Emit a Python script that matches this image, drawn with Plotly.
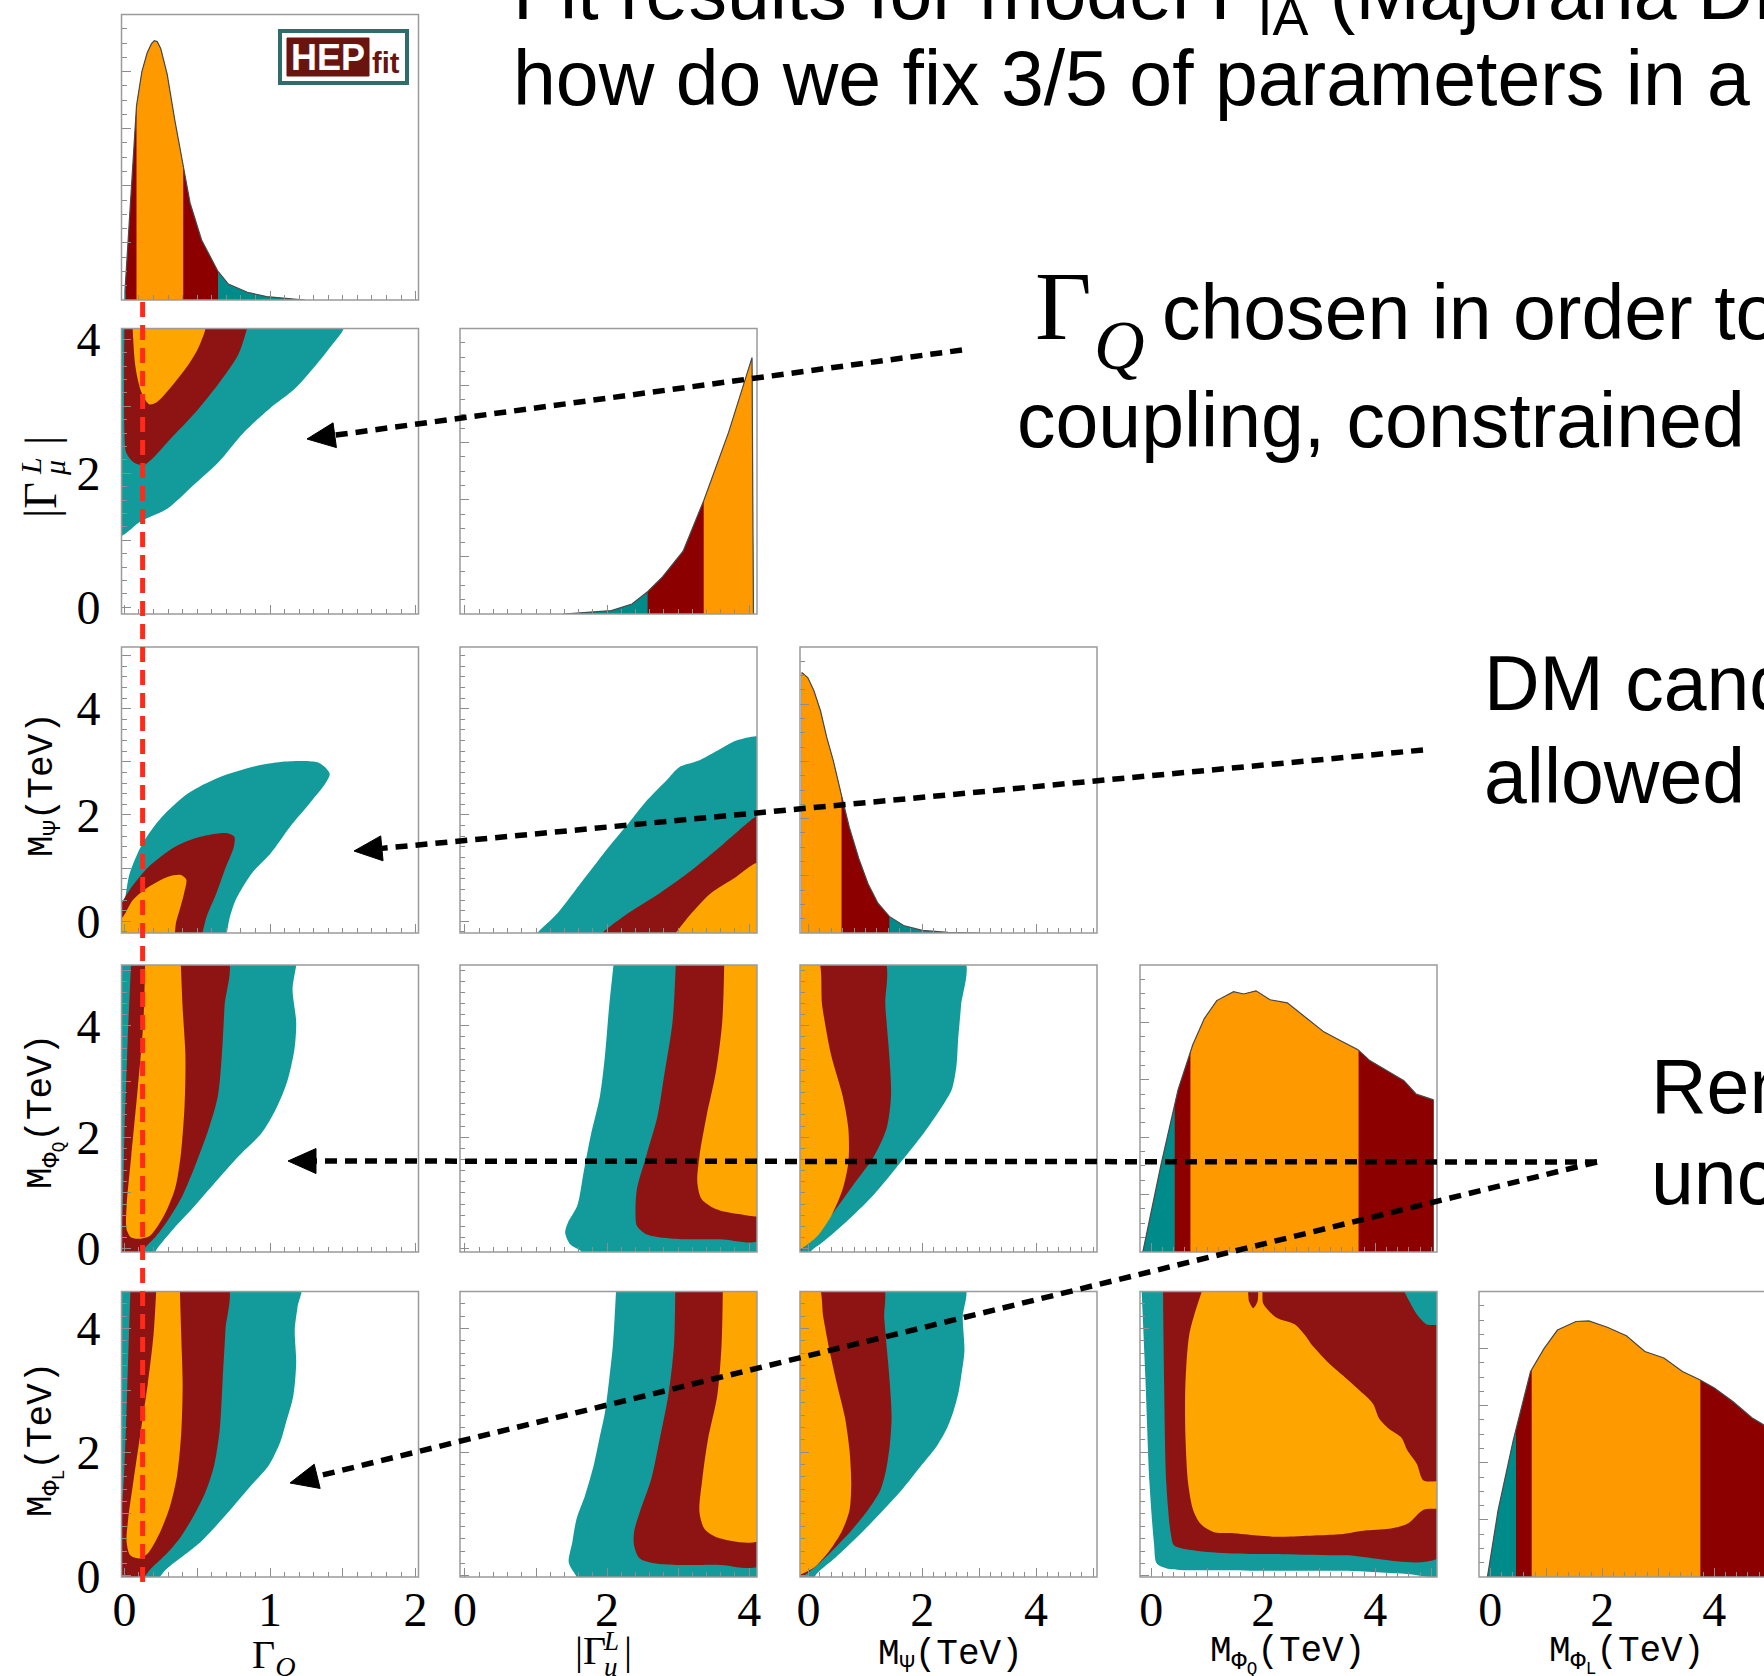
import numpy as np
import plotly.graph_objects as go

W, H = 1764, 1676

# ---------------- one-dimensional marginals (peak-normalised density) ----------------
GQ_X = [0.0, 0.03, 0.06, 0.083, 0.12, 0.156, 0.185, 0.205, 0.225, 0.25, 0.294, 0.346,
        0.404, 0.451, 0.53, 0.643, 0.714, 0.845, 0.977, 1.24]
GQ_P = [0.0, 0.24, 0.50, 0.68, 0.80, 0.865, 0.897, 0.908, 0.905, 0.88, 0.79, 0.63,
        0.47, 0.34, 0.21, 0.10, 0.056, 0.027, 0.012, 0.0]
GQ_68, GQ_95, GQ_99 = [0.083, 0.404], [0.01, 0.643], [0.0, 1.24]

GL_X = [1.38, 1.70, 2.06, 2.35, 2.57, 2.78, 3.07, 3.36, 3.71, 4.04, 4.06]
GL_P = [0.0, 0.006, 0.012, 0.035, 0.078, 0.13, 0.22, 0.397, 0.636, 0.898, 0.0]
GL_68, GL_95, GL_99 = [3.36, 4.06], [2.57, 4.06], [1.38, 4.06]

MPSI_X = [-0.12, -0.014, 0.095, 0.21, 0.32, 0.435, 0.58, 0.716, 0.884, 1.05, 1.22,
          1.42, 1.67, 2.0, 2.45, 3.0]
MPSI_P = [0.911, 0.893, 0.847, 0.777, 0.684, 0.603, 0.48, 0.37, 0.26, 0.17, 0.104,
          0.058, 0.026, 0.009, 0.002, 0.0]
MPSI_68, MPSI_95, MPSI_99 = [-0.12, 0.58], [-0.12, 1.42], [-0.12, 3.0]

MPHQ_X = [-0.15, 0.17, 0.48, 0.74, 0.95, 1.17, 1.47, 1.65, 1.87, 2.12, 2.43, 2.77,
          3.08, 3.38, 3.69, 3.90, 4.25, 4.51, 4.73, 4.99, 5.04]
MPHQ_P = [0.0, 0.30, 0.566, 0.721, 0.814, 0.876, 0.907, 0.899, 0.910, 0.879, 0.868,
          0.814, 0.767, 0.736, 0.705, 0.667, 0.628, 0.597, 0.550, 0.535, 0.53]
MPHQ_68, MPHQ_95, MPHQ_99 = [0.70, 3.70], [0.42, 5.04], [-0.15, 5.04]

MPHL_X = [-0.05, 0.14, 0.41, 0.72, 0.96, 1.20, 1.53, 1.76, 2.09, 2.43, 2.76, 3.10,
          3.43, 3.74, 4.0, 4.33, 4.67, 4.87, 5.05]
MPHL_P = [0.0, 0.233, 0.478, 0.72, 0.80, 0.865, 0.895, 0.897, 0.875, 0.845, 0.79,
          0.767, 0.72, 0.691, 0.662, 0.615, 0.558, 0.534, 0.50]
MPHL_68, MPHL_95, MPHL_99 = [0.74, 3.75], [0.46, 5.05], [-0.05, 5.05]

# chosen value of Gamma_Q
GQ_CHOSEN = 0.125

# ---------------- joint posteriors: 99.7 %, 95 % and 68 % region boundaries ----------------
GQ_GL_99 = [[-0.05, 4.3], [-0.05, 1.05], [0.118, 1.29], [0.294, 1.47], [0.468, 1.81],
            [0.644, 2.16], [0.82, 2.61], [0.995, 2.96], [1.17, 3.26], [1.31, 3.6],
            [1.42, 3.9], [1.50, 4.13], [1.52, 4.3]]
GQ_GL_95 = [[0.0, 4.3], [0.0, 2.61], [0.012, 2.31], [0.065, 2.16], [0.128, 2.12],
            [0.188, 2.21], [0.294, 2.46], [0.468, 2.86], [0.644, 3.33], [0.784, 3.78],
            [0.86, 4.3]]
GQ_GL_68 = [[0.054, 4.3], [0.075, 3.6], [0.118, 3.2], [0.17, 3.03], [0.222, 3.06],
            [0.329, 3.31], [0.433, 3.6], [0.503, 3.85], [0.556, 4.15], [0.56, 4.3]]

GQ_MPSI_99 = [[-0.05, -0.3], [-0.05, 0.2], [-0.017, 0.216], [0.036, 0.90], [0.124, 1.46],
              [0.257, 1.96], [0.433, 2.40], [0.653, 2.71], [0.918, 2.93], [1.138, 3.01],
              [1.337, 2.98], [1.41, 2.78], [1.38, 2.59], [1.27, 2.21], [1.138, 1.78],
              [1.005, 1.28], [0.874, 0.90], [0.764, 0.40], [0.72, 0.03], [0.70, -0.3]]
GQ_MPSI_95 = [[-0.05, -0.3], [-0.05, 0.156], [0.036, 0.59], [0.168, 1.03], [0.345, 1.40],
              [0.521, 1.59], [0.698, 1.66], [0.755, 1.59], [0.751, 1.40], [0.698, 1.03],
              [0.632, 0.53], [0.565, 0.09], [0.53, -0.3]]
GQ_MPSI_68 = [[-0.05, -0.3], [-0.05, 0.0], [-0.008, 0.09], [0.058, 0.40], [0.168, 0.65],
              [0.30, 0.84], [0.389, 0.87], [0.425, 0.78], [0.41, 0.53], [0.38, 0.22],
              [0.354, -0.03], [0.345, -0.3]]

GL_MPSI_99 = [[0.98, -0.3], [1.017, -0.22], [1.305, 0.156], [1.665, 0.78], [2.024, 1.40],
              [2.30, 1.84], [2.565, 2.28], [2.835, 2.65], [3.015, 2.90], [3.28, 3.02],
              [3.55, 3.21], [3.82, 3.40], [4.09, 3.48], [4.2, 3.48], [4.2, -0.3]]
GL_MPSI_95 = [[1.90, -0.3], [1.935, -0.22], [2.30, 0.156], [2.74, 0.53], [3.19, 0.96],
              [3.64, 1.46], [4.09, 1.97], [4.2, 2.05], [4.2, -0.3]]
GL_MPSI_68 = [[2.94, -0.3], [2.97, -0.22], [3.19, 0.156], [3.46, 0.53], [3.82, 0.84],
              [4.09, 1.09], [4.2, 1.1], [4.2, -0.3]]

GQ_MPHQ_99 = [[-0.05, -0.2], [-0.05, 5.2], [1.18, 5.2], [1.18, 5.09], [1.155, 4.66],
              [1.18, 4.06], [1.168, 3.58], [1.116, 2.98], [1.04, 2.50], [0.944, 2.08],
              [0.784, 1.66], [0.624, 1.19], [0.464, 0.71], [0.335, 0.35], [0.239, 0.05],
              [0.175, -0.2]]
GQ_MPHQ_95 = [[0.047, 5.2], [0.707, 5.2], [0.688, 4.36], [0.669, 3.46], [0.642, 2.74],
              [0.579, 2.15], [0.495, 1.55], [0.399, 0.95], [0.304, 0.53], [0.22, 0.23],
              [0.143, 0.02], [0.079, -0.2], [-0.05, -0.2], [-0.05, 0.0], [-0.018, 0.47],
              [0.002, 2.26], [0.027, 4.06]]
GQ_MPHQ_68 = [[0.143, 5.2], [0.13, 4.06], [0.091, 2.86], [0.047, 1.66], [0.015, 0.76],
              [0.015, 0.35], [0.047, 0.20], [0.111, 0.18], [0.175, 0.23], [0.271, 0.59],
              [0.347, 1.07], [0.386, 1.66], [0.413, 2.56], [0.419, 3.46], [0.399, 4.36],
              [0.386, 5.2]]

GL_MPHQ_99 = [[2.10, 5.2], [2.03, 4.36], [1.97, 3.46], [1.90, 2.74], [1.77, 2.03],
              [1.67, 1.37], [1.58, 0.77], [1.45, 0.47], [1.41, 0.29], [1.48, 0.08],
              [1.62, -0.03], [1.75, -0.2], [4.2, -0.2], [4.2, 5.2]]
GL_MPHQ_95 = [[2.97, 5.2], [2.92, 4.06], [2.81, 3.16], [2.71, 2.38], [2.55, 1.66],
              [2.42, 1.07], [2.40, 0.65], [2.42, 0.41], [2.55, 0.26], [2.94, 0.18],
              [3.59, 0.17], [4.2, 0.18], [4.2, 5.2]]
GL_MPHQ_68 = [[3.65, 5.2], [3.62, 4.06], [3.53, 3.16], [3.40, 2.38], [3.30, 1.66],
              [3.27, 1.19], [3.33, 0.89], [3.53, 0.71], [3.85, 0.62], [4.2, 0.62], [4.2, 5.2]]

MPSI_MPHQ_99 = [[-0.2, 5.2], [2.73, 5.2], [2.68, 4.36], [2.63, 3.76], [2.60, 3.28],
                [2.52, 2.86], [2.39, 2.62], [2.03, 2.08], [1.62, 1.55], [1.13, 0.95],
                [0.65, 0.47], [0.24, 0.11], [0.045, -0.04], [-0.05, -0.2], [-0.2, -0.2]]
MPSI_MPHQ_95 = [[-0.2, 5.2], [1.32, 5.2], [1.35, 4.36], [1.42, 3.46], [1.45, 2.74],
                [1.37, 2.15], [1.15, 1.66], [0.82, 1.19], [0.48, 0.71], [0.16, 0.29],
                [-0.05, 0.05], [-0.2, -0.1]]
MPSI_MPHQ_68 = [[-0.2, 5.2], [0.16, 5.2], [0.24, 4.36], [0.40, 3.46], [0.60, 2.74],
                [0.70, 2.15], [0.70, 1.55], [0.60, 1.07], [0.40, 0.59], [0.16, 0.23],
                [-0.09, 0.02], [-0.2, -0.05]]

GQ_MPHL_99 = [[-0.05, -0.1], [-0.05, 4.7], [1.21, 4.7], [1.19, 4.36], [1.17, 3.98],
              [1.18, 3.45], [1.16, 2.91], [1.11, 2.48], [1.07, 2.16], [0.99, 1.78],
              [0.87, 1.46], [0.75, 1.13], [0.63, 0.81], [0.52, 0.54], [0.38, 0.28],
              [0.28, 0.09], [0.22, -0.1]]
GQ_MPHL_95 = [[0.042, 4.7], [0.706, 4.7], [0.694, 3.98], [0.675, 3.18], [0.655, 2.37],
              [0.616, 1.78], [0.556, 1.35], [0.476, 0.97], [0.378, 0.60], [0.279, 0.33],
              [0.18, 0.11], [0.10, -0.1], [-0.05, -0.1], [-0.05, 0.2], [-0.006, 1.49],
              [0.021, 3.18]]
GQ_MPHL_68 = [[0.22, 4.7], [0.20, 3.9], [0.16, 3.1], [0.11, 2.3], [0.06, 1.5],
              [0.025, 0.9], [0.015, 0.55], [0.04, 0.33], [0.10, 0.28], [0.16, 0.36],
              [0.24, 0.68], [0.31, 1.1], [0.36, 1.6], [0.39, 2.3], [0.40, 3.1],
              [0.39, 3.9], [0.38, 4.7]]

GL_MPHL_99 = [[2.13, 4.7], [2.08, 3.71], [2.03, 3.18], [1.97, 2.64], [1.89, 2.21],
              [1.81, 1.78], [1.69, 1.30], [1.57, 0.92], [1.51, 0.54], [1.46, 0.22],
              [1.53, 0.06], [1.65, -0.1], [4.2, -0.1], [4.2, 4.7]]
GL_MPHL_95 = [[2.96, 4.7], [2.94, 3.71], [2.86, 2.91], [2.74, 2.21], [2.62, 1.56],
              [2.46, 1.03], [2.38, 0.71], [2.38, 0.49], [2.46, 0.28], [2.74, 0.19],
              [3.55, 0.18], [4.2, 0.19], [4.2, 4.7]]
GL_MPHL_68 = [[3.63, 4.7], [3.61, 3.71], [3.55, 2.91], [3.42, 2.21], [3.34, 1.56],
              [3.30, 1.03], [3.37, 0.76], [3.55, 0.62], [4.2, 0.60], [4.2, 4.7]]

MPSI_MPHL_99 = [[-0.2, 4.7], [2.74, 4.7], [2.71, 4.18], [2.74, 3.64], [2.68, 3.21],
                [2.63, 2.94], [2.55, 2.67], [2.44, 2.40], [2.24, 2.08], [1.96, 1.76],
                [1.63, 1.38], [1.25, 1.00], [0.86, 0.63], [0.48, 0.30], [0.15, 0.04],
                [0.04, -0.1], [-0.2, -0.1]]
MPSI_MPHL_95 = [[-0.2, 4.7], [1.30, 4.7], [1.33, 4.18], [1.38, 3.64], [1.43, 3.10],
                [1.46, 2.56], [1.43, 2.13], [1.36, 1.70], [1.26, 1.38], [1.04, 1.06],
                [0.75, 0.73], [0.42, 0.41], [0.15, 0.17], [-0.07, 0.01], [-0.2, -0.05]]
MPSI_MPHL_68 = [[-0.2, 4.7], [0.17, 4.7], [0.26, 4.18], [0.37, 3.64], [0.50, 3.10],
                [0.64, 2.56], [0.72, 2.03], [0.75, 1.49], [0.72, 1.06], [0.59, 0.73],
                [0.37, 0.41], [0.12, 0.15], [-0.09, 0.04], [-0.2, 0.0]]

MPHQ_MPHL_99 = [[-0.25, 4.7], [5.2, 4.7], [5.2, 0.03], [4.57, 0.03], [3.46, 0.08],
                [2.34, 0.08], [1.22, 0.09], [0.33, 0.11], [0.10, 0.20], [0.05, 0.52],
                [-0.03, 1.49], [-0.10, 3.10], [-0.17, 4.6]]
MPHQ_MPHL_95 = [[0.21, 4.7], [0.23, 3.10], [0.27, 1.49], [0.35, 0.68], [0.41, 0.49],
                [0.77, 0.41], [1.44, 0.36], [2.34, 0.35], [3.46, 0.33], [5.2, 0.33],
                [5.2, 4.02], [4.91, 4.07], [4.74, 4.23], [4.63, 4.40], [4.46, 4.7]]
MPHQ_MPHL_68 = [[0.94, 4.7], [1.95, 4.7], [2.00, 4.40], [2.23, 4.18], [2.56, 4.07],
                [2.73, 3.91], [2.90, 3.70], [3.18, 3.43], [3.46, 3.21], [3.79, 2.94],
                [3.96, 2.78], [4.07, 2.54], [4.24, 2.38], [4.46, 2.24], [4.57, 2.03],
                [4.74, 1.81], [4.86, 1.54], [5.2, 1.51], [5.2, 1.11], [4.86, 1.07],
                [4.57, 0.84], [4.24, 0.76], [3.79, 0.73], [3.35, 0.67], [2.90, 0.65],
                [2.34, 0.63], [1.89, 0.65], [1.44, 0.69], [1.11, 0.71], [0.88, 0.84],
                [0.75, 1.06], [0.66, 1.49], [0.61, 2.29], [0.61, 3.10], [0.68, 3.91],
                [0.83, 4.40]]
MPHQ_MPHL_95_ISLAND = [[1.72, 4.7], [1.88, 4.7], [1.90, 4.45], [1.82, 4.33], [1.74, 4.45]]

MARGINALS = {
    0: (GQ_X, GQ_P, GQ_99, GQ_95, GQ_68),
    1: (GL_X, GL_P, GL_99, GL_95, GL_68),
    2: (MPSI_X, MPSI_P, MPSI_99, MPSI_95, MPSI_68),
    3: (MPHQ_X, MPHQ_P, MPHQ_99, MPHQ_95, MPHQ_68),
    4: (MPHL_X, MPHL_P, MPHL_99, MPHL_95, MPHL_68),
}
JOINTS = {
    (1, 0): [GQ_GL_99, GQ_GL_95, GQ_GL_68],
    (2, 0): [GQ_MPSI_99, GQ_MPSI_95, GQ_MPSI_68],
    (2, 1): [GL_MPSI_99, GL_MPSI_95, GL_MPSI_68],
    (3, 0): [GQ_MPHQ_99, GQ_MPHQ_95, GQ_MPHQ_68],
    (3, 1): [GL_MPHQ_99, GL_MPHQ_95, GL_MPHQ_68],
    (3, 2): [MPSI_MPHQ_99, MPSI_MPHQ_95, MPSI_MPHQ_68],
    (4, 0): [GQ_MPHL_99, GQ_MPHL_95, GQ_MPHL_68],
    (4, 1): [GL_MPHL_99, GL_MPHL_95, GL_MPHL_68],
    (4, 2): [MPSI_MPHL_99, MPSI_MPHL_95, MPSI_MPHL_68],
    (4, 3): [MPHQ_MPHL_99, MPHQ_MPHL_95, MPHQ_MPHL_68],
}

# ---------------- axes ----------------
X_RANGE = [[-0.02, 2.02], [-0.07, 4.11], [-0.15, 5.07], [-0.2, 5.1], [-0.2, 5.1]]
Y_RANGE = [[0.0, 1.0], [-0.1, 4.16], [-0.22, 5.16], [-0.06, 5.09], [-0.02, 4.6]]
MASS_TICKS = ([0, 1, 2, 3, 4, 5], ["0", "", "2", "", "4", ""], 0.2)
TICKS = [([0, 0.5, 1, 1.5, 2], ["0", "", "1", "", "2"], 0.1),
         ([0, 1, 2, 3, 4], ["0", "", "2", "", "4"], 0.2),
         MASS_TICKS, MASS_TICKS, MASS_TICKS]

COL_PX = [(121.5, 418.5), (460.0, 757.0), (800.0, 1097.0), (1140.0, 1437.0), (1479.0, 1776.0)]
ROW_PX = [(14.5, 300.0), (328.5, 614.0), (647.0, 933.0), (965.0, 1252.0), (1291.5, 1577.0)]

C1D = {"99": "#008b8b", "95": "#8d0000", "68": "#ff9900"}
C2D = {"99": "#139b9b", "95": "#8e1414", "68": "#ffa500"}
TICK_GREY = "#8c8c8c"
TICK_FONT = dict(family="Liberation Serif", size=48, color="black")

fig = go.Figure()
layout = dict(width=W, height=H, margin=dict(l=0, r=0, t=0, b=0, pad=0),
              paper_bgcolor="white", plot_bgcolor="white", showlegend=False,
              template="none")
shapes, annotations = [], []


def band(xs, ps, lo, hi):
    xs = np.asarray(xs, float)
    ps = np.asarray(ps, float)
    inner = (xs > lo) & (xs < hi)
    bx = np.concatenate([[lo, lo], xs[inner], [hi, hi]])
    by = np.concatenate([[0.0, np.interp(lo, xs, ps)], ps[inner],
                         [np.interp(hi, xs, ps), 0.0]])
    return bx, by


k = 0
for r in range(5):
    for c in range(r + 1):
        k += 1
        sx = "" if k == 1 else str(k)
        x0, x1 = COL_PX[c]
        y0, y1 = ROW_PX[r]
        xr = list(X_RANGE[c])
        x1c = x1
        if x1 > W:  # last column runs off the page
            xr[1] = xr[0] + (xr[1] - xr[0]) * (W - x0) / (x1 - x0)
            x1c = W
        tv, tt, mdt = TICKS[c]
        layout["xaxis" + sx] = dict(
            domain=[x0 / W, x1c / W], range=xr, anchor="y" + sx,
            showgrid=False, zeroline=False, showline=False,
            ticks="inside", ticklen=9, tickwidth=1, tickcolor=TICK_GREY,
            tickmode="array", tickvals=tv, ticktext=tt,
            minor=dict(ticks="inside", ticklen=5, tickwidth=1, tickcolor=TICK_GREY,
                       dtick=mdt, tick0=0, showgrid=False),
            showticklabels=(r == 4), tickfont=TICK_FONT, ticklabelstandoff=0,
            fixedrange=True)
        if r == c:
            ycfg = dict(tickmode="linear", tick0=0, dtick=0.2, showticklabels=False,
                        minor=dict(ticks="inside", ticklen=5, tickwidth=1,
                                   tickcolor=TICK_GREY, dtick=0.05, tick0=0, showgrid=False))
            yr = Y_RANGE[0]
        else:
            tvy, tty, mdty = TICKS[r]
            ycfg = dict(tickmode="array", tickvals=tvy, ticktext=tty,
                        showticklabels=(c == 0),
                        minor=dict(ticks="inside", ticklen=5, tickwidth=1,
                                   tickcolor=TICK_GREY, dtick=mdty, tick0=0, showgrid=False))
            yr = Y_RANGE[r]
        layout["yaxis" + sx] = dict(
            domain=[1 - y1 / H, 1 - y0 / H], range=yr, anchor="x" + sx,
            showgrid=False, zeroline=False, showline=False,
            ticks="inside", ticklen=9, tickwidth=1, tickcolor=TICK_GREY,
            tickfont=TICK_FONT, ticklabelstandoff=20, fixedrange=True, **ycfg)

        shapes.append(dict(type="rect", xref="paper", yref="paper",
                           x0=x0 / W, x1=x1 / W, y0=1 - y1 / H, y1=1 - y0 / H,
                           line=dict(color="#9b9b9b", width=1.5),
                           fillcolor="rgba(0,0,0,0)", layer="above"))

        xa, ya = "x" + sx, "y" + sx
        if r == c:
            xs, ps, i99, i95, i68 = MARGINALS[c]
            for iv, key in ((i99, "99"), (i95, "95"), (i68, "68")):
                bx, by = band(xs, ps, iv[0], iv[1])
                fig.add_trace(go.Scatter(x=bx, y=by, mode="lines", fill="toself",
                                         fillcolor=C1D[key], line=dict(width=0),
                                         hoverinfo="skip", xaxis=xa, yaxis=ya))
            fig.add_trace(go.Scatter(x=xs, y=ps, mode="lines",
                                     line=dict(color="#4a4a4a", width=1.2),
                                     hoverinfo="skip", xaxis=xa, yaxis=ya))
        else:
            regions = list(zip(JOINTS[(r, c)], ("99", "95", "68")))
            if (r, c) == (4, 3):
                regions.append((MPHQ_MPHL_95_ISLAND, "95"))
            for poly, key in regions:
                p = np.asarray(poly, float)
                fig.add_trace(go.Scatter(x=p[:, 0], y=p[:, 1], mode="lines",
                                         fill="toself", fillcolor=C2D[key],
                                         line=dict(width=0, shape="spline", smoothing=0.8),
                                         hoverinfo="skip", xaxis=xa, yaxis=ya))

# chosen Gamma_Q: dashed red vertical through the first column
shapes.append(dict(type="line", xref="x", yref="paper", x0=GQ_CHOSEN, x1=GQ_CHOSEN,
                   y0=1 - 1582 / H, y1=1 - 301 / H,
                   line=dict(color="#ff2a1a", width=5, dash="15px,8px"), layer="above"))


# dashed arrows from the notes to the panels
def arrow(sx_, sy_, tx, ty, head_len=28, head_w=25):
    ux, uy = tx - sx_, ty - sy_
    n = (ux ** 2 + uy ** 2) ** 0.5
    ux, uy = ux / n, uy / n
    bx, by = tx - head_len * ux, ty - head_len * uy
    shapes.append(dict(type="line", xref="paper", yref="paper",
                       x0=sx_ / W, y0=1 - sy_ / H, x1=bx / W, y1=1 - by / H,
                       line=dict(color="black", width=5.5, dash="12px,8px"), layer="above"))
    px, py = -uy, ux
    pts = [(tx, ty), (bx + px * head_w / 2, by + py * head_w / 2),
           (bx - px * head_w / 2, by - py * head_w / 2)]
    path = "M " + " L ".join(f"{x / W:.5f},{1 - y / H:.5f}" for x, y in pts) + " Z"
    shapes.append(dict(type="path", xref="paper", yref="paper", path=path,
                       fillcolor="black", line=dict(color="black", width=1), layer="above"))


arrow(962, 350, 307, 439)
arrow(1423, 750, 354, 851)
arrow(1597, 1162, 288, 1161)
arrow(1597, 1162, 290, 1483)

# HEPfit logo
shapes.append(dict(type="rect", xref="paper", yref="paper", x0=280 / W, x1=407 / W,
                   y0=1 - 83 / H, y1=1 - 31 / H, fillcolor="white",
                   line=dict(color="#2f6d6d", width=4), layer="above"))
shapes.append(dict(type="rect", xref="paper", yref="paper", x0=287 / W, x1=369 / W,
                   y0=1 - 76 / H, y1=1 - 38 / H, fillcolor="#6a1410",
                   line=dict(color="#6a1410", width=1), layer="above"))
annotations.append(dict(text="<b>HEP</b>", xref="paper", yref="paper", x=328 / W,
                        y=1 - 57 / H, xanchor="center", yanchor="middle", showarrow=False,
                        font=dict(family="Liberation Sans", size=36, color="white")))
annotations.append(dict(text="<b>fit</b>", xref="paper", yref="paper", x=386 / W,
                        y=1 - 63 / H, xanchor="center", yanchor="middle", showarrow=False,
                        font=dict(family="Liberation Sans", size=29, color="#6a1410")))


def text_at(s, x_px, base_px, size, family="Liberation Sans", ascent=0.905):
    annotations.append(dict(text=s, xref="paper", yref="paper", x=x_px / W,
                            y=1 - (base_px - ascent * size) / H, xanchor="left",
                            yanchor="top", showarrow=False, borderpad=0,
                            font=dict(family=family, size=size, color="black")))


def label(s, cx, cy, size, family, angle=0):
    annotations.append(dict(text=s, xref="paper", yref="paper", x=cx / W, y=1 - cy / H,
                            xanchor="center", yanchor="middle", textangle=angle,
                            showarrow=False, borderpad=0,
                            font=dict(family=family, size=size, color="black")))


text_at("Fit results for model F<sub>IA</sub> (Majorana DM)", 512, 18, 77)
text_at("how do we fix 3/5 of parameters in a", 512, 104, 77)
text_at("Γ", 1034, 338, 98, "Liberation Serif", 0.891)
text_at("<i>Q</i>", 1093, 368, 70, "Liberation Serif", 0.891)
text_at("chosen in order to", 1161, 338, 77)
text_at("coupling, constrained", 1016, 446, 77)
text_at("DM candidate", 1483, 709, 77)
text_at("allowed", 1483, 802, 77)
text_at("Remaining", 1650, 1112, 77)
text_at("unconstrained", 1650, 1203, 77)

# axis titles
SERIF = "Liberation Serif"
MONO = "Liberation Mono"
label("Γ<sub><i>Q</i></sub>", 273, 1657, 40, SERIF)
# |Γ^L_u| with stacked indices
label("|Γ", 590, 1650, 40, SERIF)
label("<i>L</i>", 611, 1641, 27, SERIF)
label("<i>u</i>", 611, 1667, 27, SERIF)
label("|", 628, 1650, 40, SERIF)
label("M<sub>Ψ</sub>(TeV)", 950, 1657, 36, MONO)
label("M<sub>Φ<sub>Q</sub></sub>(TeV)", 1287, 1655, 36, MONO)
label("M<sub>Φ<sub>L</sub></sub>(TeV)", 1626, 1655, 36, MONO)
# left column titles (rotated); |Γ^L_μ| built with stacked indices
label("|Γ", 41, 500, 46, SERIF, -90)
label("<i>L</i>", 31, 466, 30, SERIF, -90)
label("<i>μ</i>", 54, 468, 30, SERIF, -90)
label("|", 41, 441, 46, SERIF, -90)
label("M<sub>Ψ</sub>(TeV)", 45, 785, 36, MONO, -90)
label("M<sub>Φ<sub>Q</sub></sub>(TeV)", 45, 1112, 36, MONO, -90)
label("M<sub>Φ<sub>L</sub></sub>(TeV)", 45, 1440, 36, MONO, -90)

layout["shapes"] = shapes
layout["annotations"] = annotations
fig.update_layout(**layout)
fig.write_html("out.html")
